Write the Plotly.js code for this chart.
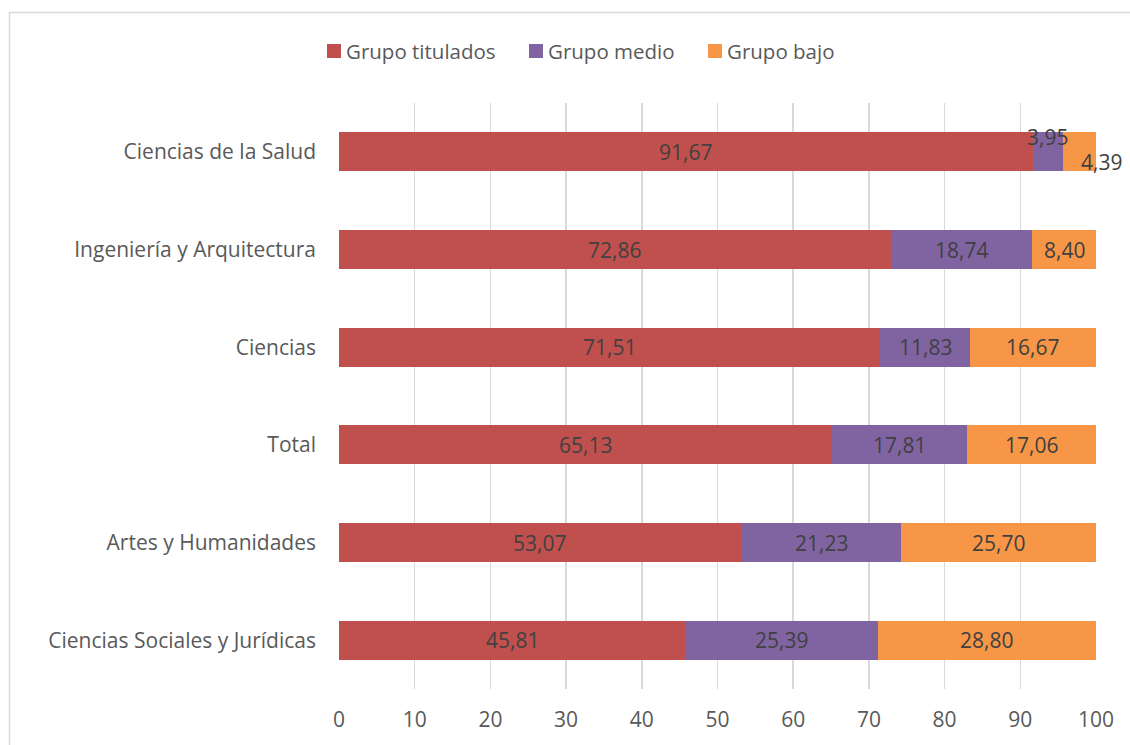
<!DOCTYPE html>
<html><head><meta charset="utf-8">
<script src="https://cdn.plot.ly/plotly-3.0.1.min.js"></script>
<style>html,body{margin:0;padding:0;background:#fff}#chart{width:1130px;height:745px}</style>
</head><body><div id="chart"></div>
<script>
const categories = ["Ciencias Sociales y Jurídicas","Artes y Humanidades","Total","Ciencias","Ingeniería y Arquitectura","Ciencias de la Salud"];
const titulados = [45.81, 53.07, 65.13, 71.51, 72.86, 91.67];
const medio     = [25.39, 21.23, 17.81, 11.83, 18.74, 3.95];
const bajo      = [28.80, 25.70, 17.06, 16.67, 8.40, 4.39];
const seriesNames = ["Grupo titulados","Grupo medio","Grupo bajo"];
const xTicks = [0,10,20,30,40,50,60,70,80,90,100];

const colors = ["#C0504D","#8064A2","#F79646"];
const series = [titulados, medio, bajo];
const FONT = "'Open Sans', sans-serif";
const FS = 21;
const FSL = 20.5;
const TXT = "#595959";

// plot area in pixels
const L = 339, R = 1096, T = 103, B = 689;
const px2x = p => (p - L) / (R - L);
const px2y = p => (B - p) / (B - T);

const traces = series.map((vals, i) => ({
  type: "bar", orientation: "h", name: seriesNames[i],
  y: categories, x: vals,
  marker: {color: colors[i], line: {width: 0}},
  hoverinfo: "none", showlegend: false
}));

const fmt = v => v.toFixed(2).replace(".", ",");
const annotations = [];
categories.forEach((c, j) => {
  let base = 0;
  series.forEach((vals, i) => {
    const v = vals[j];
    const ann = {x: base + v/2, y: c, xref: "x", yref: "y", text: fmt(v), showarrow: false,
      font: {family: FONT, size: FS, color: "#404040"}, xanchor: "center", yanchor: "middle"};
    if (v < 5) {
      if (i === 1) { ann.yshift = 15; }
      if (i === 2) { ann.yshift = -10; ann.xshift = 22; }
    }
    annotations.push(ann);
    base += v;
  });
});

// custom legend
const legendX = [327, 529, 708];
const shapes = [{type: "rect", xref: "paper", yref: "paper", x0: px2x(9.5), x1: 1.2, y0: -0.3, y1: px2y(12.5),
    line: {color: "#D9D9D9", width: 1.5}, fillcolor: "rgba(0,0,0,0)", layer: "below"}];
seriesNames.forEach((n, i) => {
  shapes.push({type: "rect", xref: "paper", yref: "paper",
    x0: px2x(legendX[i]), x1: px2x(legendX[i] + 14), y0: px2y(58), y1: px2y(44),
    fillcolor: colors[i], line: {width: 0}});
  annotations.push({xref: "paper", yref: "paper", x: px2x(legendX[i] + 17), y: px2y(51),
    xanchor: "left", yanchor: "middle", text: n, showarrow: false,
    font: {family: FONT, size: FSL, color: TXT}});
});

const layout = {
  width: 1130, height: 745,
  margin: {l: L, r: 1130 - R, t: T, b: 745 - B},
  paper_bgcolor: "#fff", plot_bgcolor: "#fff",
  barmode: "stack", bargap: 0.6,
  font: {family: FONT, size: FS, color: TXT},
  showlegend: false,
  xaxis: {range: [0, 100], tickvals: xTicks, ticktext: xTicks.map(String),
    showgrid: true, gridcolor: "#D9D9D9", gridwidth: 1.5, zeroline: false, showline: false,
    ticks: "", ticklabelstandoff: 16, tickfont: {family: FONT, size: FS, color: TXT}, fixedrange: true},
  yaxis: {type: "category", categoryorder: "array", categoryarray: categories,
    showgrid: false, zeroline: false, showline: false, ticks: "", ticklabelstandoff: 22,
    tickfont: {family: FONT, size: FS, color: TXT}, fixedrange: true},
  annotations: annotations,
  shapes: shapes
};

Plotly.newPlot("chart", traces, layout, {displayModeBar: false, staticPlot: true});
</script></body></html>
